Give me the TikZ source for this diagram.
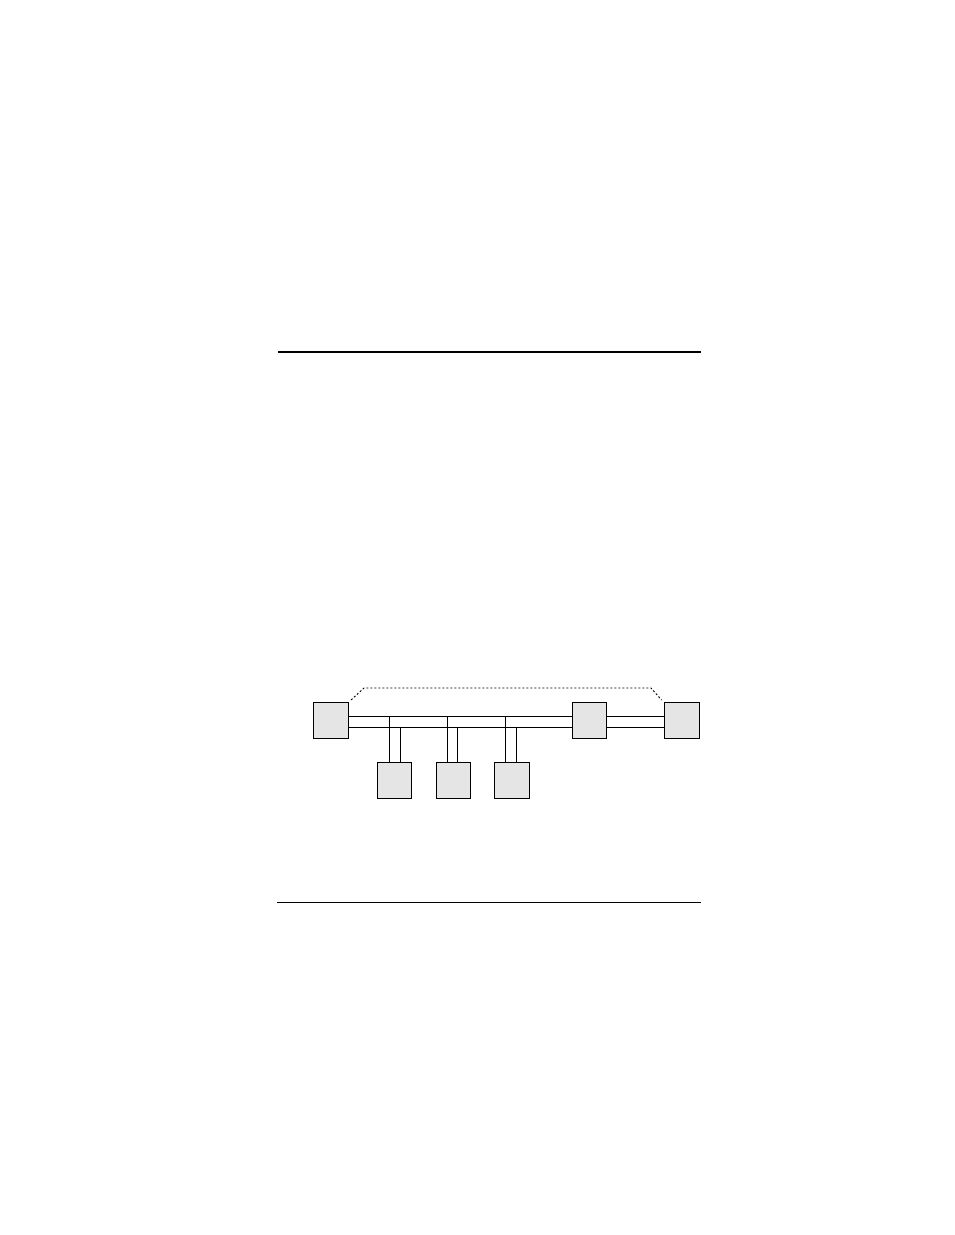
\documentclass[tikz,border=0pt]{standalone}
\usetikzlibrary{positioning}

\begin{document}
\begin{tikzpicture}[x=1pt, y=-1pt,
	station/.style={draw, line width=0.9pt, fill=gray!20, inner sep=0pt, outer sep=0pt, minimum width=34.5pt, minimum height=36pt},
	bus/.style={line width=0.9pt},
	link/.style={line width=0.9pt, dash pattern=on 2pt off 2pt}]
	\useasboundingbox (0,0) rectangle (954,1235);

	% page rules
	\draw [line width=2pt] (278,351.7) -- (701,351.7);
	\draw [line width=1.1pt] (277,902.3) -- (701,902.3);

	\node (a) [station] at (330.8,720) {};
	\node (e) [station, right=224pt of a] {};
	\node (f) [station, right=58pt of e] {};
	\node (b) [station] at (394.5,780) {};
	\node (c) [station, right=24.6pt of b] {};
	\node (d) [station, right=23.6pt of c] {};

	\coordinate (top) at (0,716);
	\coordinate (bot) at (0,727);
	\coordinate (dl) at (364,688);
	\coordinate (dr) at (651,688);

	% bus
	\path [bus]
		([yshift=4pt]a.east) edge ([yshift=4pt]e.west)
		([yshift=-7pt]a.east) edge ([yshift=-7pt]e.west)
		([yshift=4pt]e.east) edge ([yshift=4pt]f.west)
		([yshift=-7pt]e.east) edge ([yshift=-7pt]f.west);

	% drops
	\path [bus]
		([xshift=-5.2pt]b.north) edge ([xshift=-5.2pt]b.north |- top)
		([xshift=5.8pt]b.north) edge ([xshift=5.8pt]b.north |- bot)
		([xshift=-6.2pt]c.north) edge ([xshift=-6.2pt]c.north |- top)
		([xshift=3.8pt]c.north) edge ([xshift=3.8pt]c.north |- bot)
		([xshift=-6.4pt]d.north) edge ([xshift=-6.4pt]d.north |- top)
		([xshift=5pt]d.north) edge ([xshift=5pt]d.north |- bot);

	\draw [link] ([xshift=3pt,yshift=2pt]a.north east) -- (dl) -- (dr) -- ([xshift=-3pt,yshift=2pt]f.north west);

\end{tikzpicture}
\end{document}
